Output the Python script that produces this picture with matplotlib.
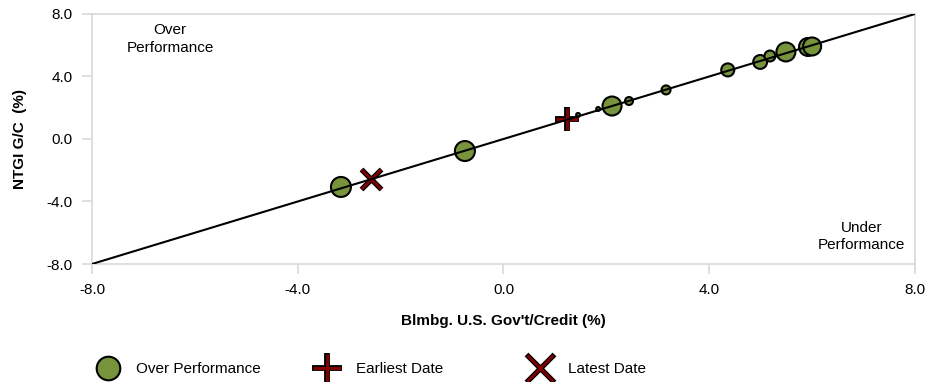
import numpy as np
import matplotlib
matplotlib.use("Agg")
import matplotlib.pyplot as plt
from matplotlib.lines import Line2D

plt.rcParams['font.family'] = ['Liberation Sans', 'DejaVu Sans']

# returns (%) - benchmark on x, fund on y
gov_credit = [-3.16, -0.75, 1.45, 1.84, 2.11, 2.44, 3.16, 4.36, 4.99, 5.18, 5.49, 5.92, 6.00]
ntgi_gc = [-3.07, -0.77, 1.54, 1.92, 2.11, 2.43, 3.14, 4.42, 4.93, 5.31, 5.57, 5.89, 5.92]
bubble = [207, 207, 8, 8, 187, 33, 42, 88, 100, 62, 187, 168, 168]

earliest = (1.23, 1.28)
latest = (-2.58, -2.53)

ticks = [-8.0, -4.0, 0.0, 4.0, 8.0]
green = "#77933C"
darkred = "#7F0000"
grid_gray = "#D9D9D9"
fs = 11

fig = plt.figure(figsize=(9.28, 3.82), dpi=100)
ax = fig.add_axes([0.0991, 0.3089, 0.8869, 0.6545])

ax.scatter(gov_credit, ntgi_gc, s=bubble, c=green, edgecolors="black", linewidths=1.5, zorder=2)

# earliest / latest markers: black outline under dark red
ax.plot(*earliest, marker="+", ms=17.5, mew=4.2, color="black", ls="none", zorder=4)
ax.plot(*earliest, marker="+", ms=16, mew=2.2, color=darkred, ls="none", zorder=5)
ax.plot(*latest, marker="x", ms=15, mew=3.8, color="black", ls="none", zorder=4)
ax.plot(*latest, marker="x", ms=14, mew=2.0, color=darkred, ls="none", zorder=5)

ax.plot([ticks[0], ticks[-1]], [ticks[0], ticks[-1]], color="black", lw=1.5, zorder=6)

ax.set_xlim(-8, 8)
ax.set_ylim(-8, 8)
ax.set_xticks(ticks)
ax.set_yticks(ticks)
ax.set_xticklabels([f"{t:.1f}" for t in ticks], fontsize=fs)
ax.set_yticklabels([f"{t:.1f}" for t in ticks], fontsize=fs)
ax.tick_params(length=7, width=1.2, color=grid_gray, pad=7)
for sp in ax.spines.values():
    sp.set_color(grid_gray)
    sp.set_linewidth(1.2)

ax.set_xlabel("Blmbg. U.S. Gov't/Credit (%)", fontsize=fs, fontweight="bold", labelpad=12)
ax.set_ylabel("NTGI G/C  (%)", fontsize=fs, fontweight="bold", labelpad=14)

ax.text(0.095, 0.90, "Over\nPerformance", transform=ax.transAxes, ha="center", va="center",
        fontsize=fs, linespacing=1.3)
ax.text(0.935, 0.11, "Under\nPerformance", transform=ax.transAxes, ha="center", va="center",
        fontsize=fs, linespacing=1.3)

# legend, one entry at a time so the spacing matches
h_circle = Line2D([], [], marker="o", ms=17, mfc=green, mec="black", mew=1.5, ls="none")
h_plus = (Line2D([], [], marker="+", ms=21.5, mew=4.2, color="black", ls="none"),
          Line2D([], [], marker="+", ms=20, mew=2.2, color=darkred, ls="none"))
h_x = (Line2D([], [], marker="x", ms=20, mew=3.8, color="black", ls="none"),
       Line2D([], [], marker="x", ms=19, mew=2.0, color=darkred, ls="none"))
for h, lab, xpos in [(h_circle, "Over Performance", 0.106),
                     (h_plus, "Earliest Date", 0.343),
                     (h_x, "Latest Date", 0.572)]:
    fig.legend([h], [lab], loc="center left", bbox_to_anchor=(xpos, 0.034), frameon=False,
               fontsize=fs, handlelength=1.2, handletextpad=1.25, borderpad=0, borderaxespad=0)

fig.savefig("out.png", dpi=100)
